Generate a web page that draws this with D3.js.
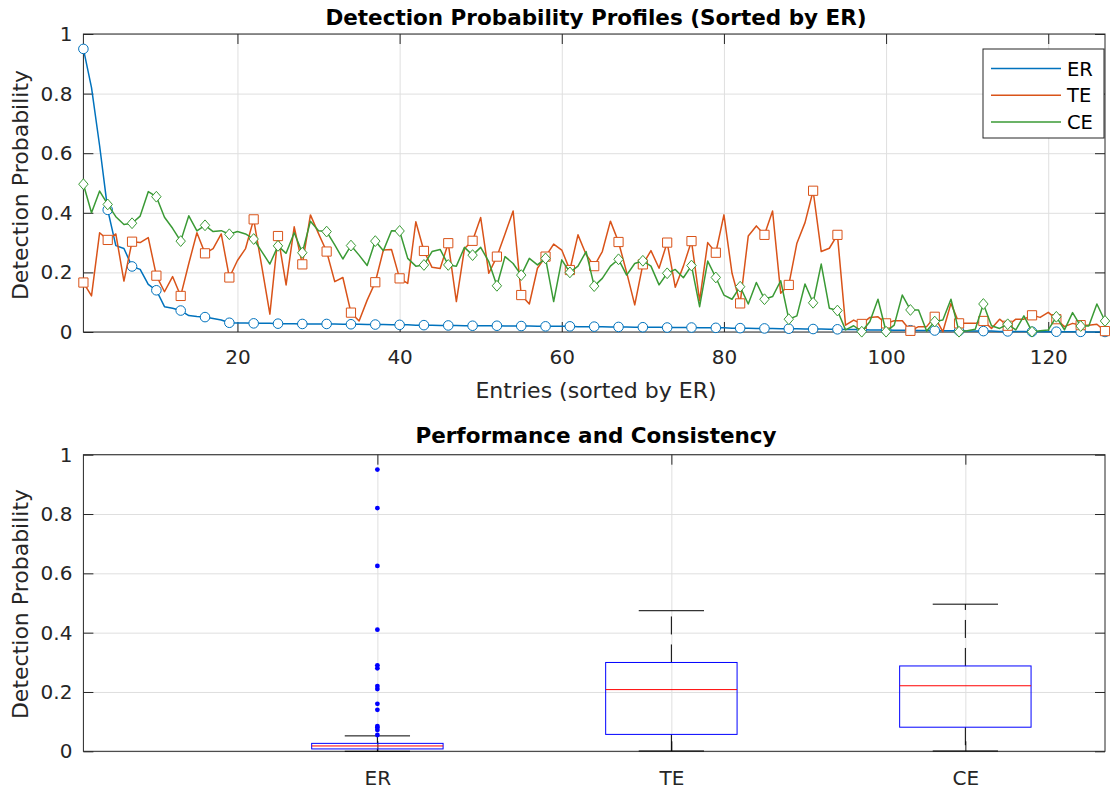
<!DOCTYPE html>
<html>
<head>
<meta charset="utf-8">
<script src="https://cdn.jsdelivr.net/npm/d3@7"></script>
<style>
  body { margin: 0; background: #fff; }
  svg { display: block; font-family: "DejaVu Sans", "Liberation Sans", Arial, sans-serif; }
</style>
</head>
<body>
<div id="chart"></div>
<script>
// detection probabilities per entry, sorted by ER (entries 1..127)
const ER = [0.95,0.82,0.625,0.41,0.29,0.28,0.22,0.21,0.16,0.14,
  0.085,0.08,0.072,0.055,0.052,0.05,0.045,0.04,0.031,0.03,
  0.03,0.029,0.029,0.029,0.028,0.028,0.028,0.027,0.027,0.027,
  0.027,0.027,0.026,0.026,0.026,0.025,0.025,0.025,0.024,0.024,
  0.024,0.023,0.023,0.023,0.022,0.022,0.022,0.021,0.021,0.021,
  0.021,0.021,0.020,0.020,0.020,0.020,0.019,0.019,0.019,0.019,
  0.019,0.018,0.018,0.018,0.018,0.017,0.017,0.017,0.016,0.016,
  0.016,0.016,0.015,0.015,0.015,0.015,0.014,0.014,0.014,0.014,
  0.013,0.013,0.013,0.012,0.012,0.012,0.011,0.011,0.011,0.010,
  0.010,0.010,0.009,0.009,0.008,0.008,0.008,0.007,0.007,0.007,
  0.006,0.006,0.006,0.005,0.005,0.005,0.004,0.004,0.004,0.003,
  0.003,0.003,0.003,0.002,0.002,0.002,0.002,0.001,0.001,0.001,
  0.001,0.001,0.0005,0.0005,0.0003,0.0002,0.0001];

const TE = [0.166,0.121,0.333,0.309,0.329,0.171,0.303,0.30,0.317,0.189,
  0.135,0.186,0.121,0.23,0.333,0.264,0.28,0.329,0.183,0.24,
  0.28,0.378,0.22,0.06,0.322,0.158,0.353,0.227,0.393,0.33,
  0.27,0.169,0.183,0.065,0.037,0.107,0.167,0.275,0.277,0.18,
  0.163,0.37,0.272,0.217,0.213,0.298,0.102,0.28,0.306,0.384,
  0.197,0.253,0.329,0.406,0.124,0.094,0.214,0.253,0.295,0.275,
  0.208,0.326,0.26,0.221,0.27,0.372,0.302,0.2,0.091,0.227,
  0.273,0.214,0.3,0.15,0.221,0.305,0.105,0.3,0.266,0.393,
  0.197,0.096,0.322,0.356,0.326,0.406,0.13,0.158,0.298,0.367,
  0.474,0.27,0.281,0.326,0.023,0.04,0.027,0.049,0.051,0.029,
  0.038,0.038,0.004,0.018,0.018,0.051,0.001,0.096,0.029,0.029,
  0.029,0.037,0.012,0.043,0.021,0.043,0.043,0.056,0.049,0.066,
  0.043,0.018,0.029,0.023,0.023,0.026,0.003];

const CE = [0.496,0.40,0.473,0.428,0.387,0.361,0.365,0.389,0.471,0.454,
  0.385,0.348,0.305,0.39,0.339,0.358,0.337,0.34,0.328,0.337,
  0.329,0.312,0.27,0.228,0.289,0.264,0.333,0.266,0.372,0.34,
  0.337,0.292,0.245,0.29,0.258,0.223,0.305,0.273,0.34,0.339,
  0.247,0.221,0.225,0.27,0.277,0.225,0.221,0.284,0.258,0.284,
  0.236,0.155,0.253,0.23,0.191,0.247,0.225,0.247,0.102,0.242,
  0.2,0.221,0.27,0.154,0.18,0.221,0.244,0.191,0.23,0.239,
  0.221,0.158,0.197,0.21,0.182,0.223,0.085,0.238,0.183,0.124,
  0.11,0.152,0.094,0.166,0.11,0.119,0.172,0.043,0.054,0.161,
  0.098,0.228,0.08,0.072,0.007,0.021,0.001,0.035,0.11,0.001,
  0.023,0.124,0.074,0.074,0.003,0.035,0.04,0.11,0.001,0.004,
  0.009,0.094,0.021,0.012,0.026,0.007,0.054,0.001,0.004,0.007,
  0.051,0.007,0.065,0.02,0.02,0.094,0.037];

const seriesNames = ["ER", "TE", "CE"];
const seriesColors = ["#0072bd", "#d95319", "#3a9a35"];
const markerTypes = ["circle", "square", "diamond"];
const topXTicks = [20, 40, 60, 80, 100, 120];
const yTicks = [0, 0.2, 0.4, 0.6, 0.8, 1];

const axisColor = "#262626";
const gridColor = "#dfdfdf";
const fontSize = 20;
const labelSize = 22;

const svg = d3.select("#chart").append("svg")
  .attr("width", 1110)
  .attr("height", 789);

function styleAxis(g) {
  g.select(".domain").remove();
  g.attr("font-size", null).attr("font-family", null);
  g.selectAll("line").attr("stroke", axisColor);
  g.selectAll("text").attr("fill", axisColor).style("font-size", fontSize + "px");
}

// grid, box and inward ticks on all four sides, MATLAB style
function drawFrame(x, y, xTicks, xFormat, xPad) {
  const [l, r] = x.range();
  const [b, t] = y.range();

  svg.append("g")
    .attr("transform", `translate(0,${b})`)
    .call(d3.axisBottom(x).tickValues(xTicks).tickSize(-(b - t)).tickFormat(""))
    .call(g => g.select(".domain").remove())
    .selectAll("line").attr("stroke", gridColor);
  svg.append("g")
    .attr("transform", `translate(${l},0)`)
    .call(d3.axisLeft(y).tickValues(yTicks).tickSize(-(r - l)).tickFormat(""))
    .call(g => g.select(".domain").remove())
    .selectAll("line").attr("stroke", gridColor);

  svg.append("rect")
    .attr("x", l).attr("y", t)
    .attr("width", r - l).attr("height", b - t)
    .attr("fill", "none")
    .attr("stroke", axisColor);

  svg.append("g")
    .attr("transform", `translate(0,${b})`)
    .call(d3.axisBottom(x).tickValues(xTicks).tickFormat(xFormat)
      .tickSizeInner(-10).tickSizeOuter(0).tickPadding(xPad))
    .call(styleAxis);
  svg.append("g")
    .attr("transform", `translate(0,${t})`)
    .call(d3.axisTop(x).tickValues(xTicks).tickFormat("")
      .tickSizeInner(-10).tickSizeOuter(0))
    .call(styleAxis);
  svg.append("g")
    .attr("transform", `translate(${l},0)`)
    .call(d3.axisLeft(y).tickValues(yTicks).tickFormat(d => String(d))
      .tickSizeInner(-10).tickSizeOuter(0).tickPadding(11))
    .call(styleAxis);
  svg.append("g")
    .attr("transform", `translate(${r},0)`)
    .call(d3.axisRight(y).tickValues(yTicks).tickFormat("")
      .tickSizeInner(-10).tickSizeOuter(0))
    .call(styleAxis);
}

function addText(x, y, txt, opts) {
  const o = opts || {};
  return svg.append("text")
    .attr("x", x).attr("y", y)
    .attr("text-anchor", "middle")
    .attr("fill", o.fill || "#000")
    .attr("font-weight", o.bold ? "bold" : null)
    .attr("transform", o.rotate ? `rotate(-90,${x},${y})` : null)
    .style("font-size", (o.size || labelSize) + "px")
    .text(txt);
}

// ---------- top panel: profiles ----------
const xTop = d3.scaleLinear().domain([1, 127]).range([83.4, 1105]);
const yTop = d3.scaleLinear().domain([0, 1]).range([332, 34]);

drawFrame(xTop, yTop, topXTicks, d => String(d), 17.5);

const allSeries = [ER, TE, CE];
const lineGen = d3.line()
  .x((d, i) => xTop(i + 1))
  .y(d => yTop(d));

function markerPath(type) {
  if (type === "circle") return d3.symbol(d3.symbolCircle, 72)();
  if (type === "square") return "M-4.6,-4.6H4.6V4.6H-4.6Z";
  return "M0,-5.4L4.7,0L0,5.4L-4.7,0Z";
}

allSeries.forEach((vals, k) => {
  svg.append("path")
    .datum(vals)
    .attr("d", lineGen)
    .attr("fill", "none")
    .attr("stroke", seriesColors[k])
    .attr("stroke-width", 1.5)
    .attr("stroke-linejoin", "round");

  const marked = vals.map((v, i) => ({i: i + 1, v: v})).filter(d => (d.i - 1) % 3 === 0);
  svg.append("g").selectAll("path")
    .data(marked)
    .join("path")
    .attr("d", markerPath(markerTypes[k]))
    .attr("transform", d => `translate(${xTop(d.i)},${yTop(d.v)})`)
    .attr("fill", "#fff")
    .attr("stroke", seriesColors[k])
    .attr("stroke-width", 1);
});

// legend
const leg = svg.append("g");
leg.append("rect")
  .attr("x", 983).attr("y", 49).attr("width", 121).attr("height", 89)
  .attr("fill", "#fff").attr("stroke", axisColor);
seriesNames.forEach((name, k) => {
  const yy = 68.5 + k * 26.7;
  leg.append("line")
    .attr("x1", 991).attr("x2", 1061).attr("y1", yy).attr("y2", yy)
    .attr("stroke", seriesColors[k]).attr("stroke-width", 1.5);
  leg.append("text")
    .attr("x", 1067).attr("y", yy).attr("dy", "0.36em")
    .attr("fill", "#000")
    .style("font-size", "19.5px")
    .text(name);
});

addText(596, 25, "Detection Probability Profiles (Sorted by ER)", {bold: true, size: 21.5});
addText(596, 398, "Entries (sorted by ER)", {fill: axisColor});
addText(28, 185, "Detection Probability", {rotate: true, fill: axisColor});

// ---------- bottom panel: box plots ----------
const xBox = d3.scaleLinear().domain([0, 3.475]).range([83.4, 1105]);
const yBox = d3.scaleLinear().domain([0, 1]).range([751.3, 454.7]);

drawFrame(xBox, yBox, [1, 2, 3], d => seriesNames[d - 1], 19.5);

function prctile(sorted, p) {
  const n = sorted.length;
  const pos = p * n + 0.5;
  if (pos <= 1) return sorted[0];
  if (pos >= n) return sorted[n - 1];
  const lo = Math.floor(pos);
  const f = pos - lo;
  return sorted[lo - 1] + f * (sorted[lo] - sorted[lo - 1]);
}

const boxHalf = 0.2235, capHalf = 0.111;

allSeries.forEach((vals, k) => {
  const s = vals.slice().sort(d3.ascending);
  const q1 = prctile(s, 0.25), med = prctile(s, 0.5), q3 = prctile(s, 0.75);
  const iqr = q3 - q1;
  const hiFence = q3 + 1.5 * iqr, loFence = q1 - 1.5 * iqr;
  const wHi = d3.max(s.filter(v => v <= hiFence));
  const wLo = d3.min(s.filter(v => v >= loFence));
  const outliers = s.filter(v => v > hiFence || v < loFence);
  const c = k + 1;
  const g = svg.append("g");

  // whiskers (dashed) and caps
  [[q3, wHi], [q1, wLo]].forEach(([from, to]) => {
    g.append("line")
      .attr("x1", xBox(c)).attr("x2", xBox(c))
      .attr("y1", yBox(from)).attr("y2", yBox(to))
      .attr("stroke", "#000").attr("stroke-dasharray", "18,10");
    g.append("line")
      .attr("x1", xBox(c - capHalf)).attr("x2", xBox(c + capHalf))
      .attr("y1", yBox(to)).attr("y2", yBox(to))
      .attr("stroke", "#000");
  });

  g.append("rect")
    .attr("x", xBox(c - boxHalf))
    .attr("y", yBox(q3))
    .attr("width", xBox(c + boxHalf) - xBox(c - boxHalf))
    .attr("height", yBox(q1) - yBox(q3))
    .attr("fill", "none")
    .attr("stroke", "#0000ff");

  g.append("line")
    .attr("x1", xBox(c - boxHalf)).attr("x2", xBox(c + boxHalf))
    .attr("y1", yBox(med)).attr("y2", yBox(med))
    .attr("stroke", "#ff0000");

  g.selectAll("circle")
    .data(outliers)
    .join("circle")
    .attr("cx", xBox(c))
    .attr("cy", d => yBox(d))
    .attr("r", 2.4)
    .attr("fill", "#0000ff");
});

addText(596, 443, "Performance and Consistency", {bold: true, size: 21.5});
addText(28, 604, "Detection Probability", {rotate: true, fill: axisColor});
</script>
</body>
</html>
